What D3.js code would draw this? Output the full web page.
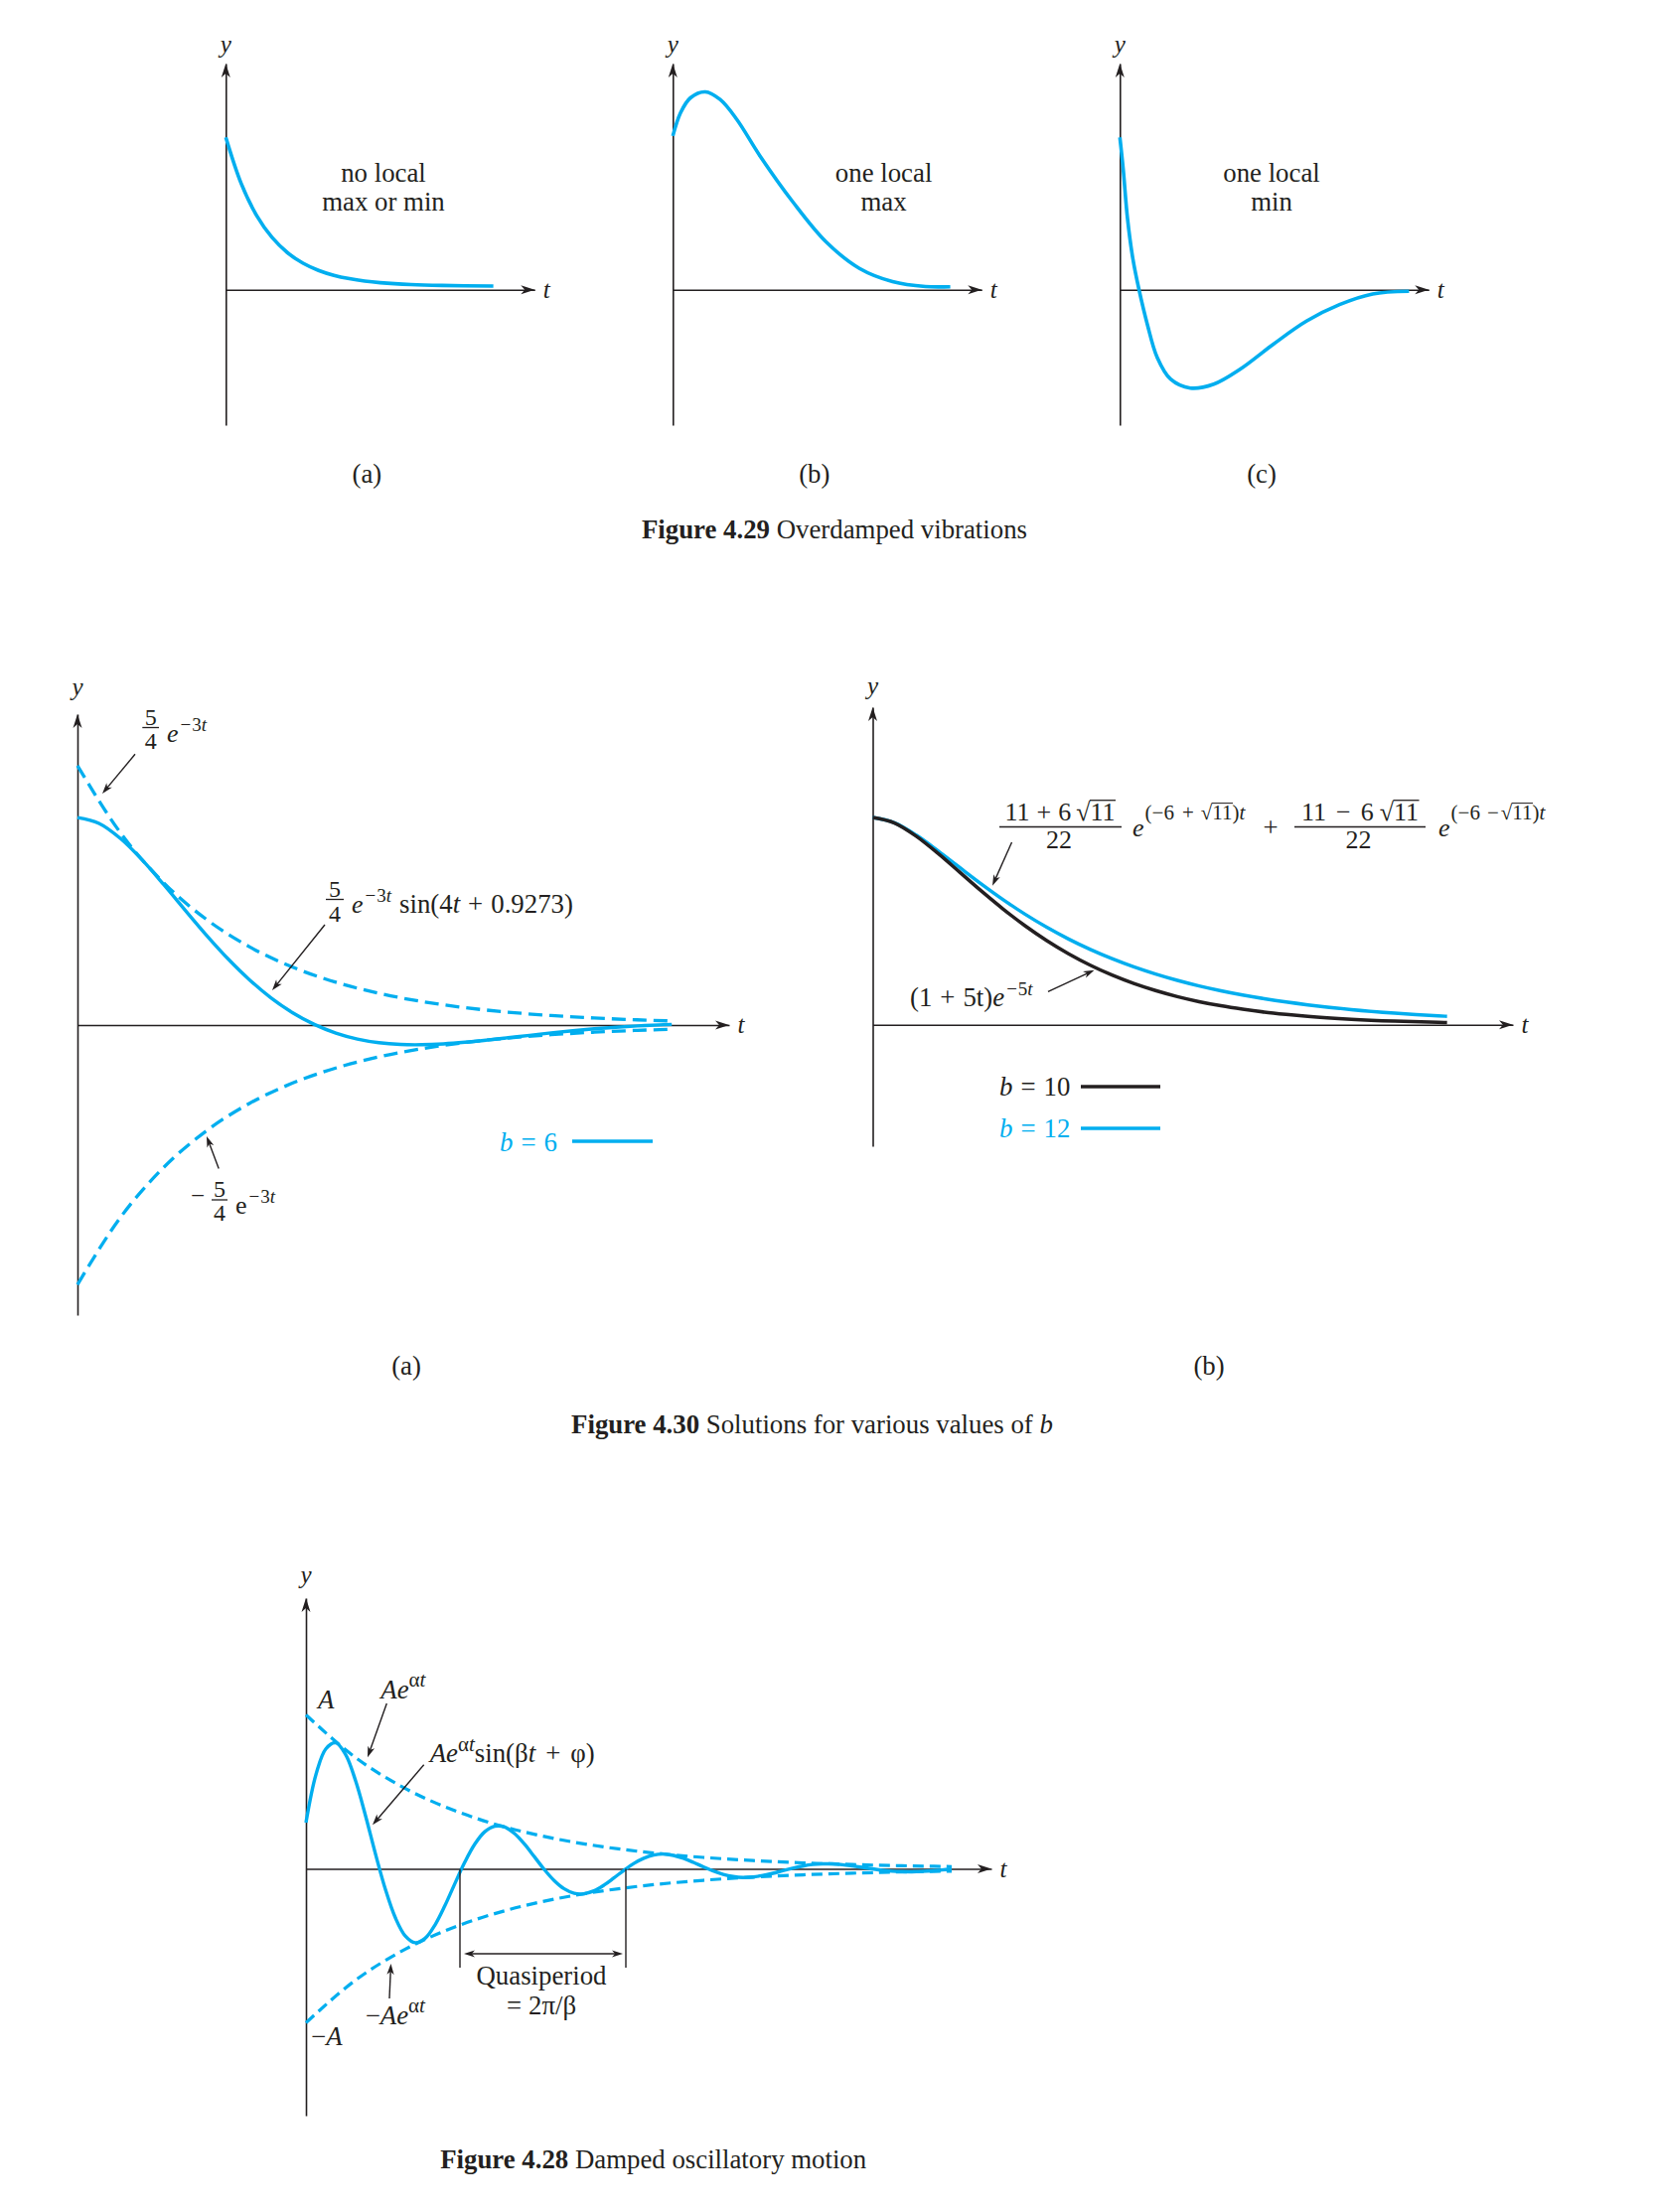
<!DOCTYPE html>
<html><head><meta charset="utf-8">
<script src="https://cdn.jsdelivr.net/npm/d3@7"></script>
<style>
body{margin:0;background:#fff}
svg{display:block}
text{font-family:"Liberation Serif","Times New Roman",serif;fill:#231f20}
</style>
</head><body>
<script>
// ---------- DATA ----------
// Figure 4.29 (overdamped), t in arbitrary units, y in arbitrary units
const t29a = [0,0.5,1,1.5,2,2.5,3,3.5,4,4.5,5,6,7,8.66];
const y29a = [1.535,1.068,0.746,0.525,0.372,0.267,0.195,0.145,0.111,0.087,0.071,0.052,0.043,0.037];
const t29b = [0,0.25,0.57,1.05,1.53,2.07,2.82,3.89,4.96,6.04,7.11,8.18,8.98];
const y29b = [1.548,1.782,1.932,1.992,1.915,1.715,1.348,0.882,0.482,0.215,0.082,0.032,0.03];
const t29c = [0,0.107,0.247,0.418,0.62,0.89,1.21,1.64,2.28,3.04,3.89,4.96,6.04,7.11,8.18,9.36];
const y29c = [1.534,1.217,0.717,0.317,0,-0.35,-0.683,-0.90,-0.99,-0.95,-0.80,-0.55,-0.316,-0.15,-0.043,-0.016];
const labels29 = [["no local","max or min"],["one local","max"],["one local","min"]];
const sub29 = ["(a)","(b)","(c)"];

// Figure 4.30(a), b = 6
const t30a = [0,0.05,0.1,0.15,0.2,0.25,0.3,0.35,0.4,0.45,0.5,0.55,0.6,0.65,0.7,0.75,0.8,0.85,0.9,0.95,1,1.05,1.1,1.15,1.2,1.25,1.3,1.35,1.38];
const sol30a = [1.000,0.9720,0.8988,0.7963,0.6776,0.5535,0.4317,0.3182,0.2170,0.1304,
  0.0592,0.0034,-0.0381,-0.0669,-0.0846,-0.0932,-0.0944,-0.0904,-0.0826,-0.0723,
  -0.0608,-0.0491,-0.0377,-0.0272,-0.0180,-0.0102,-0.0039,0.0010,0.0032];
const tEnv30a = [0,0.1,0.2,0.3,0.4,0.5,0.6,0.7,0.8,0.9,1.0,1.1,1.2,1.3,1.38];
const env30a = [1.25,0.926,0.686,0.5083,0.3765,0.2789,0.2066,0.1531,0.1134,0.0840,0.0622,0.0461,0.0341,0.0253,0.0199];

// Figure 4.30(b), b = 10 and b = 12
const t30b = [0,0.05,0.1,0.15,0.2,0.25,0.3,0.35,0.4,0.45,0.5,0.55,0.6,0.65,0.7,0.75,0.8,0.85,0.9,0.95,1.0,1.1,1.2,1.3,1.32];
const b10 = [1,0.9735,0.9098,0.8267,0.7358,0.6446,0.5578,0.4779,0.4060,0.3426,0.2873,
  0.2396,0.1991,0.1649,0.1359,0.1116,0.0916,0.0751,0.0611,0.0500,0.0404,0.0266,0.0174,0.0113,0.0104];
const b12 = [1,0.9742,0.9147,0.8392,0.7584,0.6787,0.6032,0.5335,0.4704,0.4138,0.3633,
  0.3187,0.2793,0.2446,0.2140,0.1873,0.1640,0.1435,0.1256,0.1098,0.0961,0.0734,0.0561,0.0429,0.0407];

// Figure 4.28, damped oscillation (A = 1)
const t28 = [0,0.1,0.2,0.3,0.4,0.5,0.6,0.7,0.8,0.9,1.0,1.1,1.2,1.3,1.4,1.5,1.6,1.7,1.8,1.9,
  2.0,2.1,2.2,2.3,2.4,2.5,2.6,2.7,2.8,2.9,3.0,3.1,3.2,3.3,3.4,3.5,3.6,3.7,3.8,3.9,
  4.0,4.1,4.2,4.3,4.4,4.5,4.6,4.7,4.8,4.9,5.0,5.1,5.2,5.3,5.4,5.5,5.6,5.7,5.8,5.9,
  6.0,6.1,6.2,6.3,6.4,6.5];
const osc28 = [0.30,0.611,0.779,0.819,0.741,0.571,0.344,0.096,-0.134,-0.318,
  -0.436,-0.480,-0.451,-0.363,-0.237,-0.094,0.045,0.161,0.241,0.277,
  0.272,0.229,0.160,0.078,-0.005,-0.077,-0.130,-0.159,-0.162,-0.143,
  -0.106,-0.059,-0.010,0.035,0.069,0.090,0.096,0.087,0.068,0.042,
  0.013,-0.014,-0.036,-0.050,-0.056,-0.053,-0.043,-0.029,-0.012,0.004,
  0.018,0.028,0.032,0.032,0.027,0.019,0.010,0.000,-0.009,-0.015,
  -0.018,-0.019,-0.017,-0.013,-0.007,-0.001];
const tEnv28 = [0,0.5,1,1.5,2,2.5,3,3.5,4,4.5,5,5.5,6,6.5];
const env28 = [1,0.7225,0.522,0.3772,0.2725,0.1969,0.1423,0.1028,0.0743,0.0537,0.0388,0.0280,0.0202,0.0146];
const quasiT = [1.55,3.22];

// ---------- DRAWING ----------
const CY = "#00aeef", INK = "#231f20";
const FS = 26.8, SUP = 19;
const svg = d3.select("body").append("svg").attr("width",1670).attr("height",2227);

function arrowHead(g,x,y,ang,L,W){
  const c=Math.cos(ang), s=Math.sin(ang);
  const p=(dx,dy)=>[x+dx*c-dy*s, y+dx*s+dy*c];
  const pts=[p(0,0),p(-L,-W),p(-L*0.72,0),p(-L,W)];
  g.append("path").attr("d","M"+pts.map(q=>q.map(v=>v.toFixed(2)).join(",")).join("L")+"Z").attr("fill",INK);
}
function annot(g,x1,y1,x2,y2){
  const a=Math.atan2(y2-y1,x2-x1);
  g.append("line").attr("x1",x1).attr("y1",y1).attr("x2",x2-5*Math.cos(a)).attr("y2",y2-5*Math.sin(a))
    .attr("stroke",INK).attr("stroke-width",1.4);
  arrowHead(g,x2,y2,a,11,3.6);
}
function txt(g,x,y,s,size,opt={}){
  const t=g.append("text").attr("x",x).attr("y",y).attr("font-size",size).text(s);
  if(opt.anchor) t.attr("text-anchor",opt.anchor);
  if(opt.it) t.style("font-style","italic");
  if(opt.fill) t.style("fill",opt.fill);
  if(opt.bold) t.style("font-weight","bold");
  return t;
}
function seq(g,x,y,parts,base){
  let cx=x;
  parts.forEach(p=>{
    const size=p.size||base.size, yy=y+(p.dy||0), fill=p.fill||base.fill||INK;
    const t=txt(g,cx,yy,p.s,size,{it:p.it,fill:fill});
    const w=t.node().getComputedTextLength();
    if(p.over){
      g.append("line").attr("x1",cx-0.5).attr("x2",cx+w+0.5)
       .attr("y1",yy-size*0.78).attr("y2",yy-size*0.78)
       .attr("stroke",fill).attr("stroke-width",Math.max(1,size*0.05));
    }
    cx+=w+(p.gap||0);
  });
  return cx;
}
function seqC(g,cx,y,parts,base){
  const sub=g.append("g");
  const end=seq(sub,0,y,parts,base);
  sub.attr("transform",`translate(${cx-end/2},0)`);
}
function fracBar(g,x1,x2,y){
  g.append("line").attr("x1",x1).attr("x2",x2).attr("y1",y).attr("y2",y).attr("stroke",INK).attr("stroke-width",1.3);
}
function axes(g,x,y,yLabY){
  g.append("g").attr("transform",`translate(0,${y(0)})`)
    .call(d3.axisBottom(x).tickValues([]).tickSizeOuter(0));
  g.append("g").attr("transform",`translate(${x(0)},0)`)
    .call(d3.axisLeft(y).tickValues([]).tickSizeOuter(0));
  g.selectAll(".domain").attr("stroke",INK).attr("stroke-width",1.6);
  const x1=x.range()[1], yt=y.range()[1];
  arrowHead(g,x1,y(0),0,14,4.5);
  arrowHead(g,x(0),yt,-Math.PI/2,14,4.5);
  txt(g,x(0),yLabY,"y",25,{anchor:"middle",it:true});
  txt(g,x1+12,y(0)+8,"t",25,{anchor:"middle",it:true});
}
function curve(g,x,y,ts,vs,color,w,dash,cv){
  const line=d3.line().x(d=>x(d[0])).y(d=>y(d[1])).curve(cv||d3.curveMonotoneX);
  const p=g.append("path").attr("d",line(d3.zip(ts,vs))).attr("fill","none")
    .attr("stroke",color).attr("stroke-width",w).attr("stroke-linecap","butt");
  if(dash) p.attr("stroke-dasharray",dash);
  return p;
}
function caption(x,y,bold,rest,itTail){
  const c=svg.append("text").attr("x",x).attr("y",y).attr("text-anchor","middle").attr("font-size",FS);
  c.append("tspan").style("font-weight","bold").text(bold);
  c.append("tspan").text(rest);
  if(itTail) c.append("tspan").style("font-style","italic").text(itTail);
}

// ----- Figure 4.29 -----
const g29 = svg.append("g");
const axX29 = [227.3,677.3,1127.3], txX29=[386,889.6,1280], subX29=[369.4,819.8,1270];
const series29 = [[t29a,y29a],[t29b,y29b],[t29c,y29c]];
series29.forEach((s,i)=>{
  const g=g29.append("g");
  const x=d3.scaleLinear().domain([0,10]).range([axX29[i],axX29[i]+311]);
  const y=d3.scaleLinear().domain([-1.363,2.277]).range([428,64]);
  axes(g,x,y,53);
  curve(g,x,y,s[0],s[1],CY,3.6,null,d3.curveCatmullRom.alpha(0.5));
  txt(g,txX29[i],182.7,labels29[i][0],FS,{anchor:"middle"});
  txt(g,txX29[i],211.7,labels29[i][1],FS,{anchor:"middle"});
  txt(g,subX29[i],486,sub29[i],FS,{anchor:"middle"});
});
caption(840,542,"Figure 4.29"," Overdamped vibrations");

// ----- Figure 4.30(a) -----
{
  const g=svg.append("g");
  const x=d3.scaleLinear().domain([0,1.5133]).range([78,734]);
  const y=d3.scaleLinear().domain([-1.397,1.498]).range([1324,719]);
  axes(g,x,y,700);
  curve(g,x,y,tEnv30a,env30a,CY,3.3,"14,7");
  curve(g,x,y,tEnv30a,env30a.map(v=>-v),CY,3.3,"14,7");
  curve(g,x,y,t30a,sol30a,CY,3.4,null,d3.curveCatmullRom);
  // label 1
  txt(g,151.7,730,"5",24,{anchor:"middle"}); fracBar(g,143.3,160,732.5); txt(g,151.7,753.5,"4",24,{anchor:"middle"});
  seq(g,168,746.7,[{s:"e",it:true,size:26,gap:2},{s:"−",size:SUP,dy:-10.7,gap:1},{s:"3",size:SUP,dy:-10.7},{s:"t",it:true,size:SUP,dy:-10.7}],{size:26});
  annot(g,136,759.3,103,799);
  // label 2
  txt(g,337,903,"5",24,{anchor:"middle"}); fracBar(g,328,346,905.5); txt(g,337,927.5,"4",24,{anchor:"middle"});
  seq(g,354,918.5,[{s:"e",it:true,size:26,gap:2},{s:"−",size:SUP,dy:-11,gap:1},{s:"3",size:SUP,dy:-11},{s:"t",it:true,size:SUP,dy:-11,gap:8},
    {s:"sin(4"},{s:"t",it:true,gap:8},{s:"+",gap:8},{s:"0.9273)"}],{size:FS});
  annot(g,327,931,274,997);
  // label 3
  txt(g,192,1212,"−",25);
  txt(g,221,1205,"5",24,{anchor:"middle"}); fracBar(g,213,229,1208); txt(g,221,1229,"4",24,{anchor:"middle"});
  seq(g,237,1222,[{s:"e",size:26,gap:2},{s:"−",size:SUP,dy:-11,gap:1},{s:"3",size:SUP,dy:-11},{s:"t",it:true,size:SUP,dy:-11}],{size:26});
  annot(g,220.2,1176.5,208,1144);
  // legend
  seq(g,503,1159,[{s:"b",it:true,gap:8},{s:"=",gap:8},{s:"6"}],{size:FS,fill:CY});
  g.append("line").attr("x1",576).attr("x2",657).attr("y1",1149).attr("y2",1149).attr("stroke",CY).attr("stroke-width",3.5);
  txt(g,409,1384,"(a)",FS,{anchor:"middle"});
}

// ----- Figure 4.30(b) -----
{
  const g=svg.append("g");
  const x=d3.scaleLinear().domain([0,1.4715]).range([878.5,1523]);
  const y=d3.scaleLinear().domain([-0.586,1.532]).range([1154,712]);
  axes(g,x,y,699);
  curve(g,x,y,t30b,b12,CY,3.5);
  curve(g,x,y,t30b,b10,INK,3.5);
  // formula
  seqC(g,1067,826,[{s:"11",gap:7},{s:"+",gap:7},{s:"6",gap:5},{s:"√"},{s:"11",over:true}],{size:26});
  fracBar(g,1006,1129,832.5);
  txt(g,1066,853.5,"22",26,{anchor:"middle"});
  seq(g,1140,841.7,[{s:"e",it:true,size:26,gap:1},{s:"(−6",size:21,dy:-16.7,gap:8},{s:"+",size:21,dy:-16.7,gap:7},{s:"√",size:21,dy:-16.7},
    {s:"11",size:21,dy:-16.7,over:true},{s:")",size:21,dy:-16.7},{s:"t",it:true,size:21,dy:-16.7}],{size:26});
  txt(g,1279,842,"+",FS,{anchor:"middle"});
  seqC(g,1369,826,[{s:"11",gap:10},{s:"−",gap:10},{s:"6",gap:6},{s:"√"},{s:"11",over:true}],{size:26});
  fracBar(g,1303,1435,832.5);
  txt(g,1367.5,853.5,"22",26,{anchor:"middle"});
  seq(g,1448,841.7,[{s:"e",it:true,size:26,gap:1},{s:"(−6",size:21,dy:-16.7,gap:7},{s:"−",size:21,dy:-16.7,gap:2},{s:"√",size:21,dy:-16.7},
    {s:"11",size:21,dy:-16.7,over:true},{s:")",size:21,dy:-16.7},{s:"t",it:true,size:21,dy:-16.7}],{size:26});
  annot(g,1018.5,848,999,891.7);
  seq(g,916,1013.3,[{s:"(1",gap:8},{s:"+",gap:8},{s:"5t)"},{s:"e",it:true,gap:2},{s:"−",size:SUP,dy:-11.6,gap:1},{s:"5",size:SUP,dy:-11.6},{s:"t",it:true,size:SUP,dy:-11.6}],{size:FS});
  annot(g,1055,998.3,1101.5,976.7);
  // legend
  seq(g,1006,1103,[{s:"b",it:true,gap:8},{s:"=",gap:8},{s:"10"}],{size:FS});
  g.append("line").attr("x1",1088).attr("x2",1168).attr("y1",1094).attr("y2",1094).attr("stroke",INK).attr("stroke-width",3.5);
  seq(g,1006,1145,[{s:"b",it:true,gap:8},{s:"=",gap:8},{s:"12"}],{size:FS,fill:CY});
  g.append("line").attr("x1",1088).attr("x2",1168).attr("y1",1136).attr("y2",1136).attr("stroke",CY).attr("stroke-width",3.5);
  txt(g,1217,1384,"(b)",FS,{anchor:"middle"});
}
caption(817.5,1443,"Figure 4.30"," Solutions for various values of ","b");

// ----- Figure 4.28 -----
{
  const g=svg.append("g");
  const x=d3.scaleLinear().domain([0,6.9]).range([308,998]);
  const y=d3.scaleLinear().domain([-1.603,1.758]).range([2130,1609]);
  axes(g,x,y,1594);
  curve(g,x,y,tEnv28,env28,CY,3.2,"11,6");
  curve(g,x,y,tEnv28,env28.map(v=>-v),CY,3.2,"11,6");
  curve(g,x,y,t28,osc28,CY,3.4,null,d3.curveCatmullRom);
  // quasiperiod marks
  quasiT.forEach(q=>{
    g.append("line").attr("x1",x(q)).attr("x2",x(q)).attr("y1",y(0)).attr("y2",1981).attr("stroke",INK).attr("stroke-width",1.4);
  });
  const qa=x(quasiT[0])+4, qb=x(quasiT[1])-3;
  g.append("line").attr("x1",qa+6).attr("x2",qb-6).attr("y1",1967).attr("y2",1967).attr("stroke",INK).attr("stroke-width",1.4);
  arrowHead(g,qa,1967,Math.PI,11,3.6);
  arrowHead(g,qb,1967,0,11,3.6);
  txt(g,545,1997.5,"Quasiperiod",FS,{anchor:"middle"});
  seqC(g,545,2028,[{s:"=",gap:7},{s:"2π/β"}],{size:FS});
  // labels
  txt(g,320,1720,"A",FS,{it:true});
  seq(g,383.3,1710,[{s:"A",it:true},{s:"e",it:true},{s:"α",size:21,dy:-11.7},{s:"t",it:true,size:21,dy:-11.7}],{size:FS});
  annot(g,389.3,1715,370,1769.3);
  seq(g,432.7,1774,[{s:"A",it:true},{s:"e",it:true},{s:"α",size:21,dy:-10.7},{s:"t",it:true,size:21,dy:-10.7},
    {s:"sin(β"},{s:"t",it:true,gap:10},{s:"+",gap:10},{s:"φ)"}],{size:FS});
  annot(g,426.7,1776.7,375,1837.3);
  seq(g,313,2058.6,[{s:"−"},{s:"A",it:true}],{size:FS});
  seq(g,367.7,2038,[{s:"−"},{s:"A",it:true},{s:"e",it:true},{s:"α",size:21,dy:-11.7},{s:"t",it:true,size:21,dy:-11.7}],{size:FS});
  annot(g,392,2012,393.5,1977);
}
caption(657.7,2183,"Figure 4.28"," Damped oscillatory motion");
</script>
</body></html>
